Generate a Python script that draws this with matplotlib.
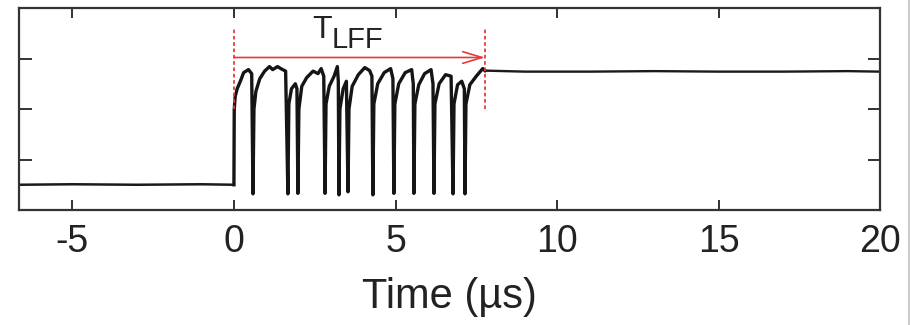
import matplotlib
matplotlib.use('Agg')
import matplotlib.pyplot as plt

plt.rcParams['font.family'] = ['Liberation Sans', 'DejaVu Sans']
plt.rcParams['axes.unicode_minus'] = False

red = '#e8393d'

# trace before switch-on (us, a.u.)
t_pre = [-6.65, -5.0, -3.0, -1.0, 0.0]
v_pre = [0.50, 0.51, 0.50, 0.51, 0.50]

# low-frequency-fluctuation part
t_lff = [0.00, 0.01, 0.04, 0.10, 0.20, 0.30, 0.45, 0.55,
         0.59, 0.62, 0.68, 0.80, 0.95, 1.10, 1.20, 1.35, 1.45, 1.60,
         1.67, 1.70, 1.78, 1.90, 1.95,
         1.98, 2.01, 2.10, 2.25, 2.45, 2.60, 2.70, 2.78,
         2.82, 2.85, 2.95, 3.10, 3.20, 3.23,
         3.25, 3.28, 3.38, 3.48,
         3.53, 3.56, 3.66, 3.85, 4.05, 4.20, 4.27,
         4.30, 4.33, 4.45, 4.65, 4.85, 4.92,
         4.95, 4.98, 5.10, 5.30, 5.50, 5.55,
         5.57, 5.60, 5.72, 5.90, 6.10, 6.16,
         6.19, 6.22, 6.35, 6.55, 6.72,
         6.78, 6.81, 6.92, 7.05, 7.13,
         7.15, 7.18, 7.30, 7.50, 7.70, 7.77]
v_lff = [0.50, 2.00, 2.25, 2.40, 2.55, 2.72, 2.78, 2.70,
         0.32, 2.00, 2.35, 2.60, 2.75, 2.84, 2.78, 2.84, 2.80, 2.75,
         0.32, 2.10, 2.40, 2.50, 2.40,
         0.33, 2.00, 2.45, 2.62, 2.75, 2.70, 2.80, 2.65,
         0.33, 2.10, 2.45, 2.65, 2.84, 2.55,
         0.30, 2.00, 2.40, 2.55,
         0.36, 2.00, 2.45, 2.68, 2.82, 2.76, 2.65,
         0.30, 2.10, 2.50, 2.72, 2.80, 2.60,
         0.33, 2.10, 2.50, 2.72, 2.78, 2.50,
         0.33, 2.10, 2.48, 2.70, 2.78, 2.50,
         0.33, 2.10, 2.50, 2.68, 2.65,
         0.32, 2.10, 2.48, 2.55, 2.40,
         0.32, 2.10, 2.48, 2.65, 2.80, 2.76]

# stable emission after the LFF regime
t_post = [7.77, 9.0, 11.0, 13.0, 15.0, 17.0, 19.0, 20.0]
v_post = [2.76, 2.74, 2.74, 2.75, 2.74, 2.74, 2.75, 2.74]

t_lff_end = 7.77
xticks = [-5, 0, 5, 10, 15, 20]
yticks = [1, 2, 3]

fig = plt.figure(figsize=(9.1, 3.25), dpi=100)
ax = fig.add_axes([0.0209, 0.3538, 0.9464, 0.6216])

ax.plot(t_pre, v_pre, color='#1a1a1a', lw=1.8)
ax.plot(t_lff, v_lff, color='#151515', lw=2.4)
ax.plot(t_post, v_post, color='#1a1a1a', lw=1.7)

# T_LFF marker
ax.plot([0, 0], [2.0, 3.6], color=red, lw=1.3, ls=(0, (2, 1.5)))
ax.plot([t_lff_end, t_lff_end], [2.0, 3.6], color=red, lw=1.3, ls=(0, (2, 1.5)))
ax.annotate('', xy=(t_lff_end, 3.02), xytext=(0, 3.02),
            arrowprops=dict(arrowstyle='->,head_length=1.0,head_width=0.3',
                            color=red, lw=1.2, mutation_scale=14,
                            shrinkA=0, shrinkB=0))
ax.text(3.03, 3.41, 'T', fontsize=23, ha='right', va='baseline', color='#222222')
ax.text(3.03, 3.21, 'LFF', fontsize=21, ha='left', va='baseline', color='#222222')

ax.set_xlim(-6.65, 20)
ax.set_ylim(0, 4)
ax.set_xticks(xticks)
ax.set_yticks(yticks)
ax.set_yticklabels([])
ax.tick_params(axis='x', direction='in', length=7, width=1.3, top=True,
               labelsize=27, pad=10, colors='#222222')
ax.tick_params(axis='y', direction='in', length=9, width=1.3, right=True,
               colors='#222222')
for s in ax.spines.values():
    s.set_linewidth(1.6)
    s.set_color('#333333')

ax.set_xlabel('Time (µs)', fontsize=30, labelpad=12, color='#222222')

# grey border line at the right of the picture
fig.add_artist(plt.Line2D([0.9985, 0.9985], [0, 1], color='#cccccc', lw=1.5,
                          transform=fig.transFigure))

fig.savefig('out.png', dpi=100)
